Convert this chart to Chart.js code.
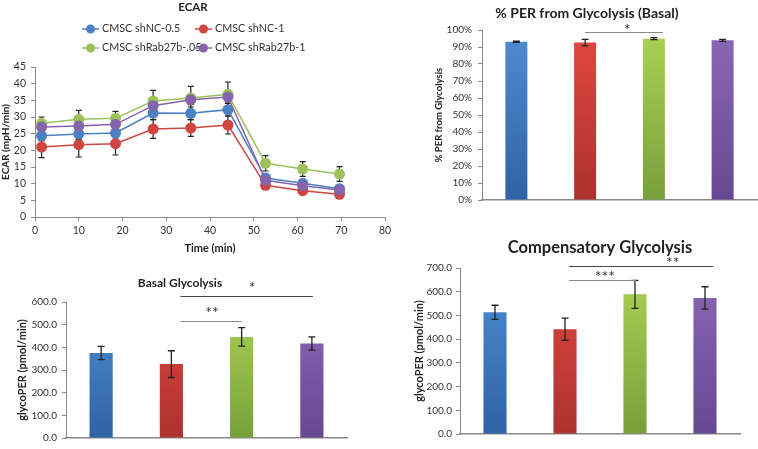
<!DOCTYPE html>
<html>
<head>
<meta charset="UTF-8">
<title>Glycolytic Rate Assay</title>
<script src="https://cdn.jsdelivr.net/npm/chart.js"></script>
<style>
  body { margin: 0; background: #fff; }
  #wrap { position: relative; width: 758px; height: 449px; overflow: hidden; }
  #wrap canvas { position: absolute; }
</style>
</head>
<body>
<div id="wrap">
  <canvas id="ecar" width="395" height="257" style="left:0;top:0"></canvas>
  <canvas id="per" width="368" height="220" style="left:390px;top:0"></canvas>
  <canvas id="basal" width="380" height="184" style="left:0;top:265px"></canvas>
  <canvas id="comp" width="368" height="219" style="left:390px;top:230px"></canvas>
</div>
<script>
Chart.defaults.font.family = 'Lato, sans-serif';
Chart.defaults.color = '#333';
Chart.defaults.animation = false;

// sample groups
const groups = ['CMSC shNC-0.5', 'CMSC shNC-1', 'CMSC shRab27b-.05', 'CMSC shRab27b-1'];

// ECAR time course (mpH/min)
const times = [1.5, 10, 18.4, 27, 35.6, 44.1, 52.7, 61.2, 69.6];
const ecarNC05 = [24.4, 24.9, 25.2, 31.2, 31.1, 32.2, 11.7, 10.1, 8.5];
const ecarNC05Err = [1.5, 1.6, 1.5, 2.0, 1.9, 1.9, 1.0, 1.0, 0.9];
const ecarNC1 = [21.0, 21.7, 22.0, 26.4, 26.7, 27.6, 9.5, 7.9, 6.8];
const ecarNC1Err = [3.2, 3.7, 3.4, 2.8, 2.5, 2.7, 0.8, 0.7, 0.7];
const ecarRab05 = [28.1, 29.3, 29.6, 34.8, 35.7, 36.8, 16.1, 14.4, 12.9];
const ecarRab05Err = [1.9, 2.7, 2.1, 3.2, 3.5, 3.7, 2.3, 2.2, 2.2];
const ecarRab1 = [27.0, 27.3, 27.8, 33.4, 35.2, 36.0, 11.0, 9.4, 8.1];
const ecarRab1Err = [1.2, 1.2, 1.2, 1.6, 1.5, 1.5, 1.0, 0.9, 0.8];

// % PER from glycolysis (basal)
const perBasal = [93.1, 92.6, 94.9, 93.9];
const perBasalErr = [0.3, 1.9, 0.6, 0.6];

// glycoPER (pmol/min)
const basalGlyco = [375, 326, 446, 417];
const basalGlycoErr = [29, 59, 41, 29];
const compGlyco = [513, 442, 589, 574];
const compGlycoErr = [30, 47, 59, 47];

const lineCols = ['#4a80c4', '#cf4540', '#9cc15a', '#8464ac'];
const barTop = ['#4f8dd2', '#e2473f', '#abd255', '#8c68b6'];
const barBot = ['#2e63a4', '#ab3230', '#78a03b', '#664890'];
const axisCol = '#8a8a8a';

function grad(chart, i) {
  const a = chart.chartArea;
  if (!a) return barTop[i];
  const g = chart.ctx.createLinearGradient(0, a.top, 0, a.bottom);
  g.addColorStop(0, barTop[i]);
  g.addColorStop(1, barBot[i]);
  return g;
}

// error bars for every dataset that carries an "errors" array
const errorBars = {
  id: 'errorBars',
  draw(chart, opts) {
    const ys = chart.scales.y, ctx = chart.ctx;
    ctx.save();
    ctx.strokeStyle = opts.color;
    ctx.lineWidth = opts.width;
    chart.data.datasets.forEach((ds, di) => {
      if (!ds.errors) return;
      chart.getDatasetMeta(di).data.forEach((el, i) => {
        const v = typeof ds.data[i] === 'object' ? ds.data[i].y : ds.data[i];
        const e = ds.errors[i];
        const t = ys.getPixelForValue(v + e), b = ys.getPixelForValue(v - e);
        const x = el.x, c = opts.cap;
        ctx.beginPath();
        ctx.moveTo(x, t); ctx.lineTo(x, b);
        ctx.moveTo(x - c, t); ctx.lineTo(x + c, t);
        ctx.moveTo(x - c, b); ctx.lineTo(x + c, b);
        ctx.stroke();
      });
    });
    ctx.restore();
  },
  beforeDatasetsDraw(chart, args, opts) { if (opts.under) this.draw(chart, opts); },
  afterDatasetsDraw(chart, args, opts) { if (!opts.under) this.draw(chart, opts); },
  defaults: { color: '#222', width: 1.2, cap: 3.5, under: false }
};

// chart title + significance brackets
const notes = {
  id: 'notes',
  afterDraw(chart, args, opts) {
    const ctx = chart.ctx;
    ctx.save();
    ctx.textAlign = 'center';
    ctx.textBaseline = 'middle';
    ctx.fillStyle = '#222';
    if (opts.title) {
      ctx.font = 'bold ' + opts.title.size + 'px Lato, sans-serif';
      ctx.fillText(opts.title.text, opts.title.x, opts.title.y);
    }
    const xs = chart.scales.x, ys = chart.scales.y;
    (opts.brackets || []).forEach(b => {
      const y = Math.round(ys.getPixelForValue(b.value)) + 0.5;
      ctx.strokeStyle = b.color;
      ctx.lineWidth = 1.2;
      ctx.beginPath();
      ctx.moveTo(xs.getPixelForValue(b.from) + b.dFrom, y);
      ctx.lineTo(xs.getPixelForValue(b.to) + b.dTo, y);
      ctx.stroke();
      ctx.font = '16px Lato, sans-serif';
      ctx.fillStyle = '#333';
      ctx.fillText(b.text, xs.getPixelForValue(b.at), y - b.dy);
    });
    ctx.restore();
  }
};

// two-column legend with line + marker swatches
const ecarLegend = {
  id: 'ecarLegend',
  afterDraw(chart, args, opts) {
    const ctx = chart.ctx;
    ctx.save();
    ctx.font = '10.8px Lato, sans-serif';
    ctx.textBaseline = 'middle';
    chart.data.datasets.forEach((ds, i) => {
      const x = opts.cols[i % 2], y = opts.rows[Math.floor(i / 2)];
      ctx.strokeStyle = ds.borderColor;
      ctx.lineWidth = 1.5;
      ctx.beginPath(); ctx.moveTo(x, y); ctx.lineTo(x + opts.len, y); ctx.stroke();
      ctx.fillStyle = ds.pointBackgroundColor;
      ctx.beginPath(); ctx.arc(x + opts.len / 2, y, 4.5, 0, Math.PI * 2); ctx.fill();
      ctx.fillStyle = '#333';
      ctx.fillText(ds.label, x + opts.len + 3, y);
    });
    ctx.restore();
  }
};

const ecarSeries = [ecarNC05, ecarNC1, ecarRab05, ecarRab1];
const ecarErrs = [ecarNC05Err, ecarNC1Err, ecarRab05Err, ecarRab1Err];

new Chart(document.getElementById('ecar'), {
  type: 'line',
  data: {
    datasets: ecarSeries.map((s, k) => ({
      label: groups[k],
      data: s.map((v, i) => ({ x: times[i], y: v })),
      errors: ecarErrs[k],
      borderColor: lineCols[k],
      backgroundColor: lineCols[k],
      pointBackgroundColor: lineCols[k],
      pointBorderWidth: 0,
      pointRadius: 5.5,
      borderWidth: 1.5,
      tension: 0,
      order: 4 - k
    }))
  },
  plugins: [errorBars, notes, ecarLegend],
  options: {
    responsive: false,
    devicePixelRatio: 1,
    layout: { padding: { top: 67, right: 10, left: 0, bottom: 0 } },
    plugins: {
      legend: { display: false },
      tooltip: { enabled: false },
      errorBars: { under: true, cap: 3 },
      ecarLegend: { cols: [82, 195], rows: [29, 48], len: 17 },
      notes: { title: { text: 'ECAR', x: 193, y: 7, size: 11.5 } }
    },
    scales: {
      x: {
        type: 'linear', min: 0, max: 80,
        ticks: { stepSize: 10, padding: 3, font: { size: 10.5 }, color: '#333' },
        grid: { drawOnChartArea: false, tickLength: 4, color: axisCol },
        border: { color: axisCol },
        title: { display: true, text: 'Time (min)', font: { size: 11, weight: 'bold' }, padding: { top: 0, bottom: 2 }, color: '#222' },
        afterFit: s => { s.height = 40; }
      },
      y: {
        min: 0, max: 45,
        ticks: { stepSize: 5, padding: 5, font: { size: 10.5 }, color: '#333' },
        grid: { drawOnChartArea: false, tickLength: 4, color: axisCol },
        border: { color: axisCol },
        title: { display: true, text: 'ECAR (mpH/min)', font: { size: 10, weight: 'bold' }, padding: 0, color: '#222' },
        afterFit: s => { s.width = 35; }
      }
    }
  }
});

function barChart(id, values, errs, o) {
  return new Chart(document.getElementById(id), {
    type: 'bar',
    data: {
      labels: groups,
      datasets: [{
        data: values,
        errors: errs,
        backgroundColor: c => grad(c.chart, c.dataIndex),
        barPercentage: o.barPct,
        categoryPercentage: 1
      }]
    },
    plugins: [errorBars, notes],
    options: {
      responsive: false,
      devicePixelRatio: 1,
      layout: { padding: o.pad },
      plugins: {
        legend: { display: false },
        tooltip: { enabled: false },
        errorBars: { cap: 3.5, width: 1.3 },
        notes: { title: o.title, brackets: o.brackets }
      },
      scales: {
        x: {
          ticks: { display: false },
          grid: { display: false },
          border: { color: axisCol, width: 1.5 },
          afterFit: s => { s.height = 0; }
        },
        y: {
          min: 0, max: o.max,
          ticks: { stepSize: o.step, padding: o.tickPad, font: { size: 10 }, color: '#333', callback: o.fmt },
          grid: { drawOnChartArea: false, tickLength: 4, color: axisCol },
          border: { color: axisCol },
          title: { display: true, text: o.yTitle, font: { size: o.yTitleSize, weight: 'bold' }, padding: 0, color: '#222' },
          afterFit: s => { s.width = o.yWidth; }
        }
      }
    }
  });
}

barChart('per', perBasal, perBasalErr, {
  barPct: 0.32, max: 100, step: 10, fmt: v => v + '%', tickPad: 6,
  pad: { top: 30, left: 43, right: 1, bottom: 20 }, yWidth: 49,
  yTitle: '% PER from Glycolysis', yTitleSize: 9.5,
  title: { text: '% PER from Glycolysis (Basal)', x: 197, y: 13, size: 14 },
  brackets: [{ from: 1, to: 2, dFrom: 0, dTo: 9, value: 99, text: '*', at: 1.61, dy: 3, color: '#8a8a8a' }]
});

barChart('basal', basalGlyco, basalGlycoErr, {
  barPct: 0.33, max: 600, step: 100, fmt: v => v.toFixed(1), tickPad: 5,
  pad: { top: 37, left: 16, right: 33, bottom: 3 }, yWidth: 50,
  yTitle: 'glycoPER (pmol/min)', yTitleSize: 11,
  title: { text: 'Basal Glycolysis', x: 180, y: 18, size: 12 },
  brackets: [
    { from: 1, to: 3, dFrom: 9, dTo: 1, value: 625, text: '*', at: 2.15, dy: 9, color: '#444' },
    { from: 1, to: 2, dFrom: 9, dTo: 0, value: 516, text: '**', at: 1.58, dy: 9, color: '#888' }
  ]
});

barChart('comp', compGlyco, compGlycoErr, {
  barPct: 0.33, max: 700, step: 100, fmt: v => v.toFixed(1), tickPad: 4,
  pad: { top: 38, left: 23, right: 18, bottom: 15 }, yWidth: 47,
  yTitle: 'glycoPER (pmol/min)', yTitleSize: 11,
  title: { text: 'Compensatory Glycolysis', x: 210, y: 18, size: 16.5 },
  brackets: [
    { from: 1, to: 3, dFrom: 4, dTo: 8, value: 707, text: '**', at: 2.54, dy: 3.5, color: '#444' },
    { from: 1, to: 2, dFrom: 4, dTo: 1, value: 648, text: '***', at: 1.57, dy: 3.5, color: '#888' }
  ]
});
</script>
</body>
</html>
